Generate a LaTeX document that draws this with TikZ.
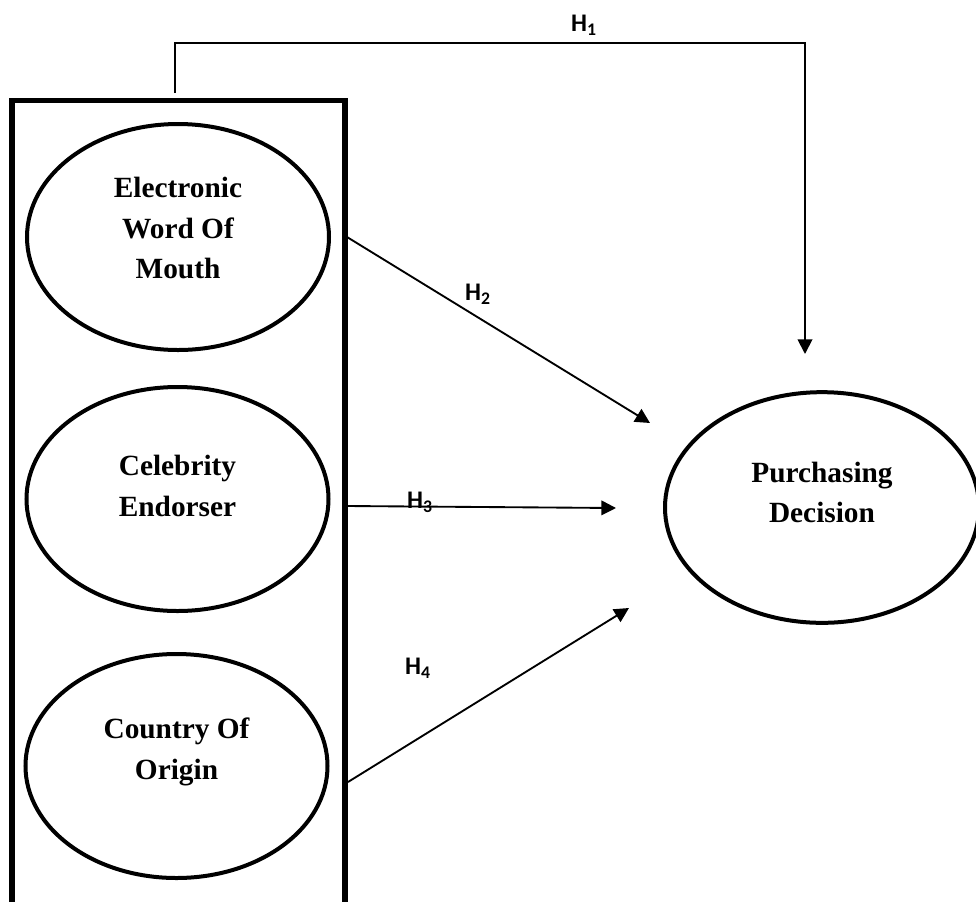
\documentclass[tikz,border=0pt]{standalone}
\usepackage{fontspec}
\setmainfont{Liberation Serif}
\newfontfamily\hfont{Carlito}
\usetikzlibrary{shapes.geometric,arrows.meta,calc}
\begin{document}
\begin{tikzpicture}[x=0.75pt,y=-0.75pt,
  construct/.style={ellipse,draw,line width=3pt,minimum width=226.5pt,minimum height=168pt,inner sep=0pt},
  ctext/.style={align=center,inner sep=0pt,font=\fontsize{22}{30.5}\selectfont\bfseries},
  link/.style={line width=1.4pt,-{Triangle[length=11pt,width=11pt]}},
  hlabel/.style={font=\hfont\fontsize{19}{21}\selectfont\bfseries,inner sep=0pt}]
\useasboundingbox (0,0) rectangle (976,901);
\clip (0,0) rectangle (976,901);
% frame
\draw[line width=4pt] (12,910) -- (12,100.5) -- (345,100.5) -- (345,910);
% constructs
\node[construct,minimum height=169.5pt] (ewom) at (178,237) {};
\node[construct] (cel) at (177.5,499) {};
\node[construct] (coo) at (176.5,766) {};
\node[construct,minimum width=235.5pt,minimum height=173pt] (pd) at (822,507.5) {};
\node[ctext] (ewomt) at ($(ewom)+(0,-9)$) {Electronic\\Word Of\\Mouth};
\node[ctext] (celt) at ($(cel)+(0,-13)$) {Celebrity\\Endorser};
\node[ctext] (coot) at ($(coo)+(0,-14)$) {Country Of\\Origin};
\node[ctext] (pdt) at ($(pd)+(0,-15)$) {Purchasing\\Decision};
% free ends
\coordinate (h1s) at (175,93);
\coordinate (h1e) at (805,354);
\coordinate (h2s) at (347,237);
\coordinate (h2e) at (650,423);
\coordinate (h3s) at (347,506);
\coordinate (h3e) at (616,508);
\coordinate (h4s) at (348,782);
\coordinate (h4e) at (629,608);
% connectors
\draw[link] (h1s) -- (175,43) -- (805,43) -- (h1e);
\draw[link] (h2s) -- (h2e);
\draw[link] (h3s) -- (h3e);
\draw[link] (h4s) -- (h4e);
% labels
\node[hlabel] (l1) at (584,25) {H\textsubscript{1}};
\node[hlabel] (l2) at (478,294) {H\textsubscript{2}};
\node[hlabel] (l3) at (420,502) {H\textsubscript{3}};
\node[hlabel] (l4) at (418,668) {H\textsubscript{4}};
\end{tikzpicture}
\end{document}
